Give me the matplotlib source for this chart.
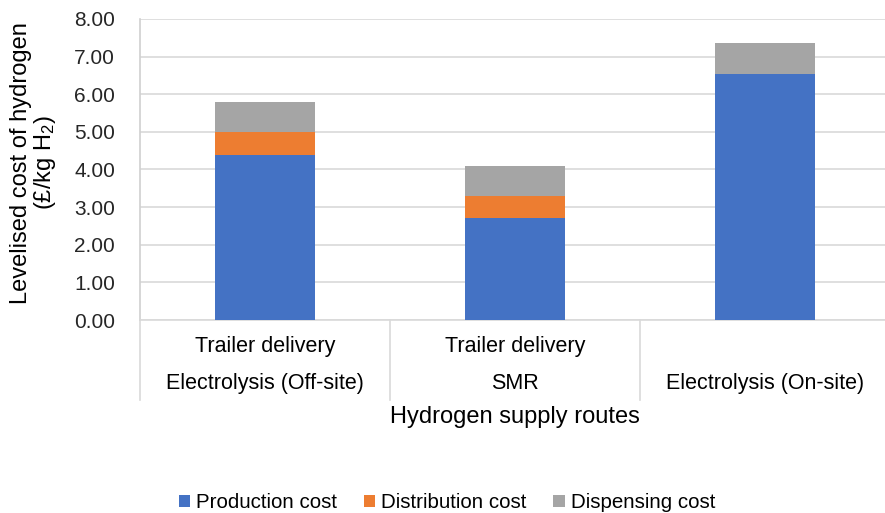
import matplotlib.pyplot as plt
from matplotlib.transforms import blended_transform_factory

plt.rcParams['font.family'] = ['Liberation Sans', 'DejaVu Sans']
plt.rcParams['mathtext.default'] = 'regular'

routes = ['Electrolysis (Off-site)', 'SMR', 'Electrolysis (On-site)']
delivery = ['Trailer delivery', 'Trailer delivery', '']
production = [4.38, 2.72, 6.53]
distribution = [0.62, 0.57, 0.0]
dispensing = [0.79, 0.80, 0.82]
yticks = [0, 1, 2, 3, 4, 5, 6, 7, 8]

W, H = 885, 513
fig = plt.figure(figsize=(W / 100, H / 100), dpi=100)
ax = fig.add_axes([140 / W, (H - 320) / H, 750 / W, 301 / H])

x = range(len(routes))
bw = 0.4
bottom2 = [p + d for p, d in zip(production, distribution)]
ax.bar(x, production, bw, color='#4472C4', label='Production cost', zorder=3)
ax.bar(x, distribution, bw, bottom=production, color='#ED7D31', label='Distribution cost', zorder=3)
ax.bar(x, dispensing, bw, bottom=bottom2, color='#A5A5A5', label='Dispensing cost', zorder=3)

ax.set_xlim(-0.5, 2.5)
ax.set_ylim(0, 8)
ax.set_yticks(yticks)
ax.set_yticklabels(['%.2f' % v for v in yticks], fontsize=15, color='#262626')
ax.tick_params(axis='y', length=0, pad=18)
ax.tick_params(axis='x', length=0, labelbottom=False)
ax.grid(axis='y', color='#d9d9d9', linewidth=1.2, zorder=0)
for s in ['top', 'right']:
    ax.spines[s].set_visible(False)
ax.spines['left'].set_color('#d0d0d0')
ax.spines['bottom'].set_color('#d9d9d9')
ax.spines['left'].set_linewidth(1.2)
ax.spines['bottom'].set_linewidth(1.2)

# category table below the axis
tr = blended_transform_factory(ax.transData, ax.transAxes)
for xv in [-0.5, 0.5, 1.5, 2.5]:
    ax.plot([xv, xv], [0, -0.265], transform=tr, color='#d9d9d9', lw=1.2, clip_on=False)
for i in x:
    ax.text(i, -0.088, delivery[i], transform=tr, ha='center', va='center', fontsize=15.5, color='black')
    ax.text(i, -0.21, routes[i], transform=tr, ha='center', va='center', fontsize=15.5, color='black')

fig.text(515 / W, 1 - 417 / H, 'Hydrogen supply routes', ha='center', va='center', fontsize=17)
fig.text(34 / W, 1 - 163 / H, 'Levelised cost of hydrogen\n(£/kg H$_2$)', ha='center', va='center',
         rotation=90, fontsize=17, linespacing=1.05)

fig.legend(loc='center', bbox_to_anchor=(447 / W, 1 - 503 / H), ncol=3, frameon=False, fontsize=14.8,
           handlelength=0.55, handleheight=0.55, handletextpad=0.3, columnspacing=1.3)

fig.savefig('out.png', dpi=100)
